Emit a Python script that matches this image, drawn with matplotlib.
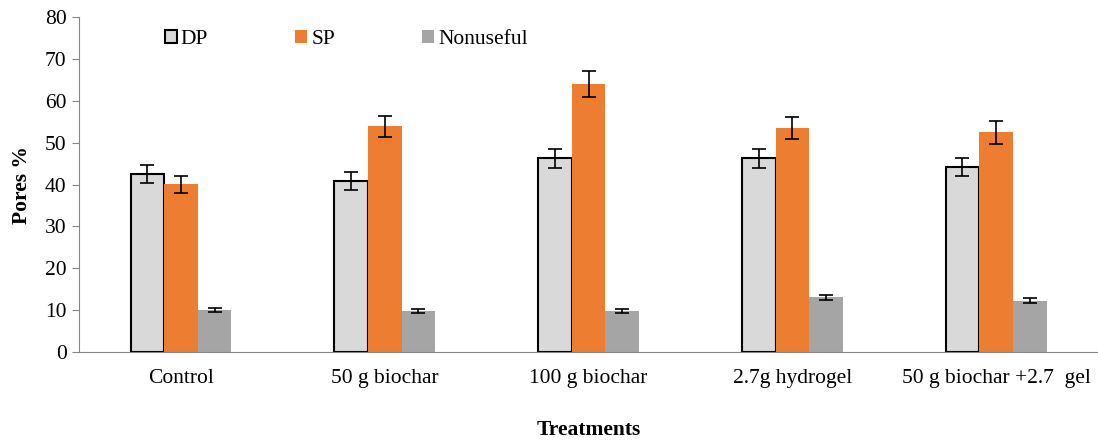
import numpy as np
import matplotlib
matplotlib.use("Agg")
from matplotlib import pyplot as plt

# data
treatments = ["Control", "50 g biochar", "100 g biochar", "2.7g hydrogel", "50 g biochar +2.7  gel"]
dp = [42.5, 40.8, 46.3, 46.3, 44.2]
dp_err = [2.1, 2.1, 2.3, 2.3, 2.1]
sp = [40.1, 53.9, 64.0, 53.5, 52.5]
sp_err = [2.0, 2.6, 3.1, 2.7, 2.8]
nonuseful = [10.0, 9.8, 9.8, 13.1, 12.2]
non_err = [0.5, 0.5, 0.5, 0.6, 0.6]

plt.rcParams['font.family'] = ['Liberation Serif', 'DejaVu Serif']
plt.rcParams['font.size'] = 15.5

fig = plt.figure(figsize=(10.98, 4.4), dpi=100)
ax = fig.add_axes([0.072, 0.2, 0.928, 0.761])

x = np.arange(len(treatments))
w = 0.165
ekw = dict(ecolor='black', elinewidth=1.2, capsize=5, capthick=1.2)

ax.bar(x - w, dp, w, yerr=dp_err, color='#d9d9d9', edgecolor='black', linewidth=1.5,
       label='DP', error_kw=ekw)
ax.bar(x, sp, w, yerr=sp_err, color='#ed7d31', label='SP', error_kw=ekw)
ax.bar(x + w, nonuseful, w, yerr=non_err, color='#a5a5a5', label='Nonuseful', error_kw=ekw)

ax.set_xlim(-0.5, len(treatments) - 0.5)
ax.set_ylim(0, 80)
ax.set_yticks(range(0, 81, 10))
ax.set_xticks(x)
ax.set_xticklabels(treatments)
ax.tick_params(axis='x', length=0, pad=12)
ax.tick_params(axis='y', length=5, color='#868686', pad=4)

for s in ['top', 'right']:
    ax.spines[s].set_visible(False)
for s in ['left', 'bottom']:
    ax.spines[s].set_color('#868686')

ax.set_ylabel('Pores %', fontweight='bold', labelpad=9)
ax.set_xlabel('Treatments', fontweight='bold', labelpad=23)

ax.legend(loc='upper left', bbox_to_anchor=(0.065, 1.02), ncol=3, frameon=False,
          handlelength=0.55, handleheight=0.55, handletextpad=0.2, columnspacing=4.05,
          fontsize=15.5)

fig.savefig('out.png', dpi=100)
